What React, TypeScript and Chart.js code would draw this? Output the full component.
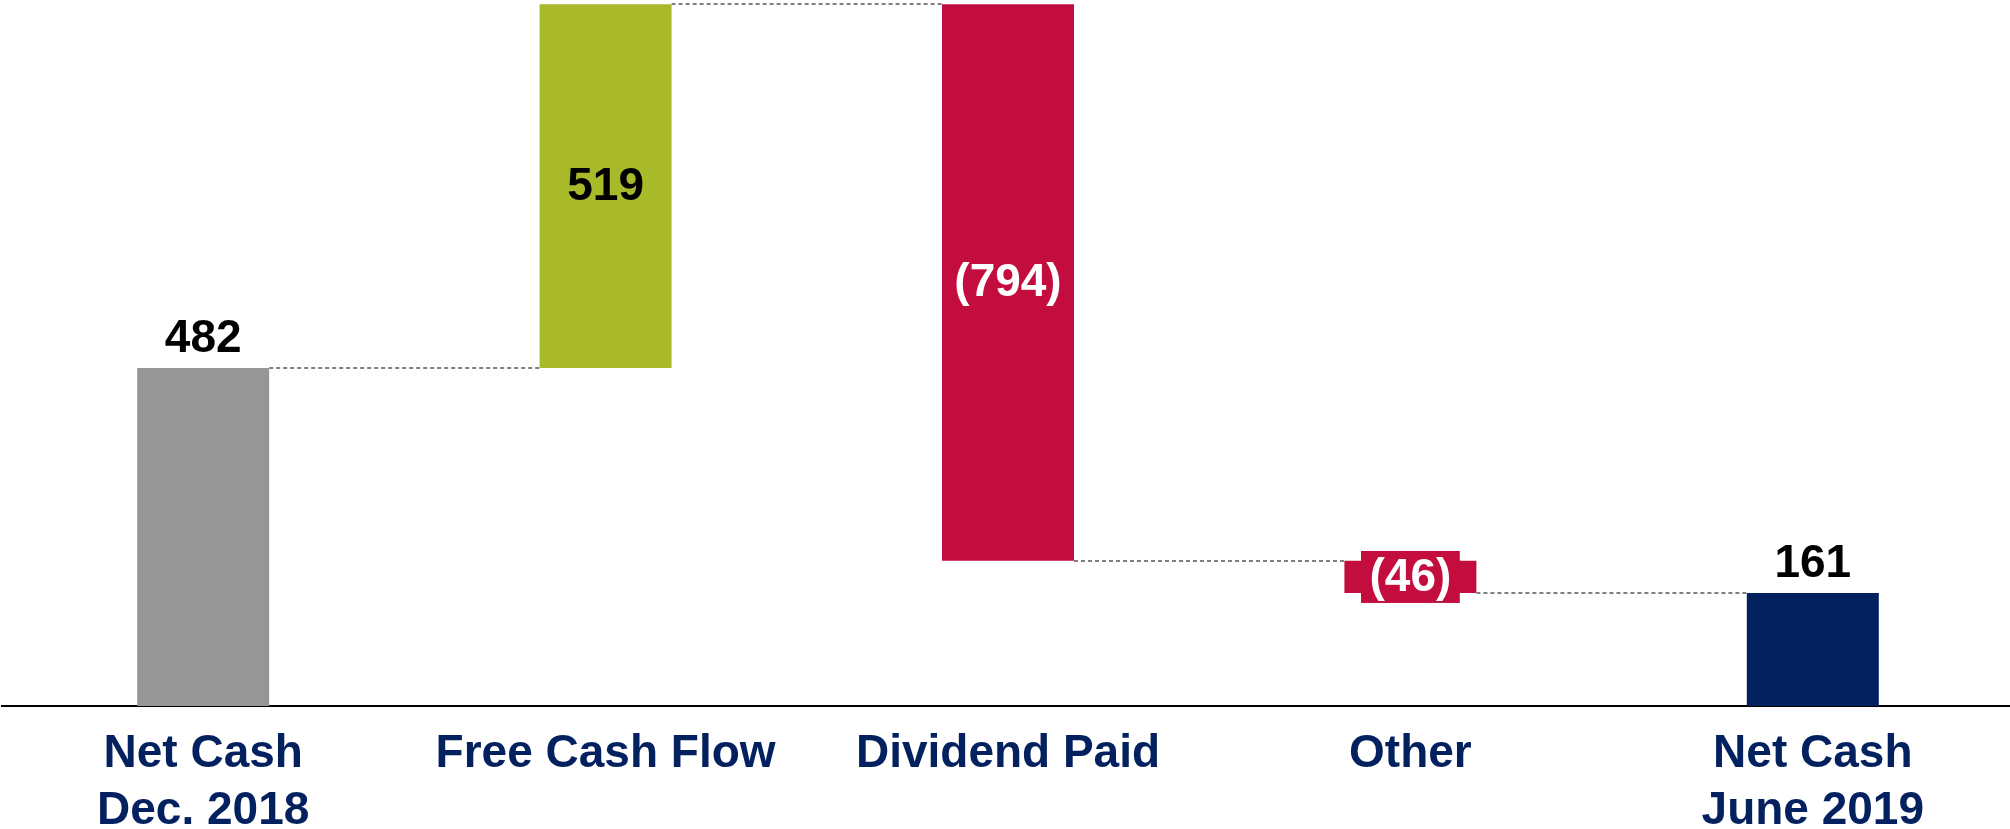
import React, { useEffect, useRef } from "react";
import { Chart, registerables } from "chart.js";

Chart.register(...registerables);

// ---- data ----
const CATEGORIES: (string | string[])[] = [
  ["Net Cash", "Dec. 2018"],
  "Free Cash Flow",
  "Dividend Paid",
  "Other",
  ["Net Cash", "June 2019"],
];
const CHANGES = [482, 519, -794, -46, 161];
const KINDS = ["total", "increase", "decrease", "decrease", "total"];
const VALUE_LABELS = ["482", "519", "(794)", "(46)", "161"];
const Y_MAX = 1007;

const COLORS: Record<string, string> = {
  total0: "#969696",
  increase: "#A8B929",
  decrease: "#C20D3E",
  total1: "#03215F",
};

const FONT = "'Liberation Sans', Arial, Helvetica, sans-serif";

function buildRanges() {
  const ranges: [number, number][] = [];
  const after: number[] = [];
  let running = 0;
  CHANGES.forEach((v, i) => {
    if (KINDS[i] === "total") {
      ranges.push([0, v]);
      running = v;
    } else {
      const s = running;
      const e = running + v;
      ranges.push([Math.min(s, e), Math.max(s, e)]);
      running = e;
    }
    after.push(running);
  });
  return { ranges, after };
}

export default function App() {
  const canvasRef = useRef<HTMLCanvasElement | null>(null);

  useEffect(() => {
    const { ranges, after } = buildRanges();
    let totalIdx = 0;
    const barColors = KINDS.map((k) => {
      if (k === "total") {
        const c = totalIdx === 0 ? COLORS.total0 : COLORS.total1;
        totalIdx++;
        return c;
      }
      return COLORS[k];
    });

    const waterfallPlugin = {
      id: "waterfallDecor",
      afterDatasetsDraw(chart: any) {
        const ctx = chart.ctx as CanvasRenderingContext2D;
        const meta = chart.getDatasetMeta(0);
        const yScale = chart.scales.y;
        ctx.save();
        // connectors
        ctx.strokeStyle = "#808080";
        ctx.lineWidth = 2;
        ctx.setLineDash([4, 3]);
        for (let i = 0; i < meta.data.length - 1; i++) {
          const a = meta.data[i] as any;
          const b = meta.data[i + 1] as any;
          const y = Math.round(yScale.getPixelForValue(after[i]));
          ctx.beginPath();
          ctx.moveTo(a.x + a.width / 2, y);
          ctx.lineTo(b.x - b.width / 2, y);
          ctx.stroke();
        }
        ctx.setLineDash([]);
        // value labels
        ctx.font = `bold 46px ${FONT}`;
        ctx.textAlign = "center";
        meta.data.forEach((el: any, i: number) => {
          const top = Math.min(el.y, el.base);
          const bottom = Math.max(el.y, el.base);
          const h = bottom - top;
          const label = VALUE_LABELS[i];
          if (KINDS[i] === "total") {
            ctx.fillStyle = "#000000";
            ctx.textBaseline = "alphabetic";
            ctx.fillText(label, el.x, top - 16);
          } else {
            const cy = (top + bottom) / 2;
            if (h < 52) {
              const tw = ctx.measureText(label).width;
              const bw = tw + 17;
              const bh = 52;
              ctx.fillStyle = barColors[i];
              ctx.fillRect(el.x - bw / 2, cy - bh / 2, bw, bh);
            }
            ctx.fillStyle = KINDS[i] === "increase" ? "#000000" : "#FFFFFF";
            ctx.textBaseline = "middle";
            ctx.fillText(label, el.x, cy + 1);
          }
        });
        ctx.restore();
      },
    };

    const chart = new Chart(canvasRef.current as HTMLCanvasElement, {
      type: "bar",
      data: {
        labels: CATEGORIES as any,
        datasets: [
          {
            data: ranges as any,
            backgroundColor: barColors,
            borderWidth: 0,
            categoryPercentage: 1,
            barPercentage: 0.328,
          },
        ],
      },
      options: {
        animation: false,
        responsive: true,
        maintainAspectRatio: false,
        devicePixelRatio: 1,
        layout: { padding: { left: 2, right: 0, top: 0, bottom: 0 } },
        plugins: {
          legend: { display: false },
          tooltip: { enabled: false },
        },
        scales: {
          x: {
            grid: { display: false, drawTicks: false },
            border: { display: true, color: "#000000", width: 2 },
            ticks: {
              color: "#03215F",
              font: { family: FONT, size: 46, weight: "bold", lineHeight: 1.24 },
              padding: 20,
              maxRotation: 0,
              minRotation: 0,
              autoSkip: false,
            },
          },
          y: {
            display: false,
            min: 0,
            max: Y_MAX,
          },
        },
      },
      plugins: [waterfallPlugin],
    });
    return () => chart.destroy();
  }, []);

  return (
    <div
      style={{
        position: "fixed",
        left: 0,
        top: 0,
        width: "2014px",
        height: "860px",
        background: "#ffffff",
      }}
    >
      <canvas ref={canvasRef} />
    </div>
  );
}
